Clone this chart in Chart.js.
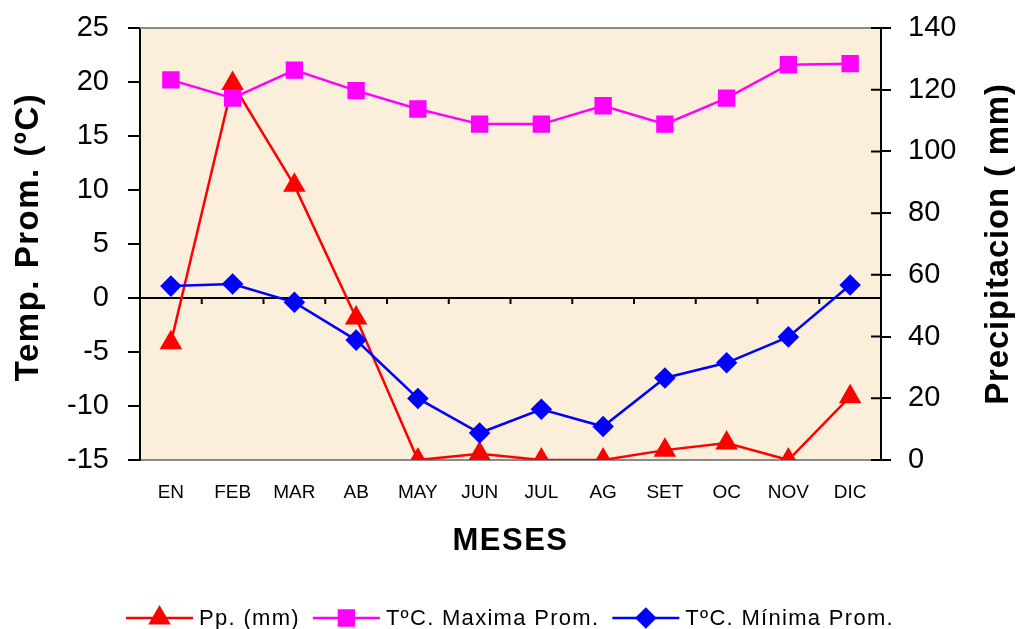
<!DOCTYPE html>
<html>
<head>
<meta charset="utf-8">
<script src="https://cdn.jsdelivr.net/npm/chart.js@4.4.1/dist/chart.umd.min.js"></script>
<style>
  html, body { margin: 0; padding: 0; background: #fff; }
  #wrap { width: 1021px; height: 629px; }
</style>
</head>
<body>
<div id="wrap"><canvas id="chart" width="1021" height="629"></canvas></div>
<script>
// months
const meses = ['EN', 'FEB', 'MAR', 'AB', 'MAY', 'JUN', 'JUL', 'AG', 'SET', 'OC', 'NOV', 'DIC'];

// precipitation (mm) - right axis
const precip = [38, 122, 89, 46, 0, 2, 0, 0, 3.2, 5.5, 0, 20.5];
// max temperature (ºC)
const tMax = [20.2, 18.5, 21.1, 19.2, 17.5, 16.1, 16.1, 17.8, 16.1, 18.5, 21.6, 21.7];
// min temperature (ºC)
const tMin = [1.1, 1.3, -0.4, -3.9, -9.3, -12.5, -10.3, -11.9, -7.4, -6.0, -3.6, 1.2];

const FONT = '"Liberation Sans", Arial, sans-serif';

// background, zero line, borders, titles and legend
const decor = {
  id: 'decor',
  beforeDraw(chart) {
    const {ctx, chartArea: a} = chart;
    ctx.save();
    ctx.fillStyle = '#fbeedb';
    ctx.fillRect(a.left, a.top, a.right - a.left, a.bottom - a.top);
    ctx.restore();
  },
  beforeDatasetsDraw(chart) {
    const {ctx, chartArea: a, scales} = chart;
    const y0 = scales.y.getPixelForValue(0);
    ctx.save();
    // top border
    ctx.strokeStyle = '#8a8a8a';
    ctx.lineWidth = 2;
    ctx.beginPath();
    ctx.moveTo(a.left, a.top);
    ctx.lineTo(a.right, a.top);
    ctx.stroke();
    // zero line with little ticks between months
    ctx.strokeStyle = '#000';
    ctx.beginPath();
    ctx.moveTo(a.left, y0);
    ctx.lineTo(a.right, y0);
    const step = (a.right - a.left) / meses.length;
    for (let i = 1; i < meses.length; i++) {
      const x = a.left + step * i;
      ctx.moveTo(x, y0);
      ctx.lineTo(x, y0 + 6);
    }
    // right axis ticks cross inward too
    scales.y1.ticks.forEach((t) => {
      const y = scales.y1.getPixelForValue(t.value);
      ctx.moveTo(a.right - 10, y);
      ctx.lineTo(a.right, y);
    });
    ctx.stroke();
    ctx.restore();
  },
  afterDraw(chart) {
    const {ctx, chartArea: a} = chart;
    const midY = (a.top + a.bottom) / 2;
    ctx.save();
    ctx.fillStyle = '#000';
    ctx.textAlign = 'center';
    ctx.textBaseline = 'middle';
    ctx.font = 'bold 33px ' + FONT;
    ctx.letterSpacing = '1.5px';
    // left title
    ctx.save();
    ctx.translate(29, midY - 7);
    ctx.rotate(-Math.PI / 2);
    ctx.fillText('Temp. Prom. (ºC)', 0, 0);
    ctx.restore();
    // right title
    ctx.letterSpacing = '0.8px';
    ctx.save();
    ctx.translate(999, midY);
    ctx.rotate(-Math.PI / 2);
    ctx.fillText('Precipitacion ( mm)', 0, 0);
    ctx.restore();
    // x title
    ctx.font = 'bold 31px ' + FONT;
    ctx.letterSpacing = '1.5px';
    ctx.fillText('MESES', (a.left + a.right) / 2, 541);

    // legend
    ctx.font = '22px ' + FONT;
    ctx.letterSpacing = '1.3px';
    const items = chart.data.datasets.map((d) => ({
      text: d.label, color: d.borderColor, style: d.pointStyle, r: d.pointRadius,
      w: ctx.measureText(d.label).width
    }));
    const lineLen = 67, gapText = 6, gapItem = 13;
    let total = 0;
    items.forEach((it, i) => { total += lineLen + gapText + it.w + (i ? gapItem : 0); });
    let x = 510 - total / 2;
    const ly = 618;
    ctx.textAlign = 'left';
    items.forEach((it) => {
      ctx.strokeStyle = it.color;
      ctx.lineWidth = 2.5;
      ctx.beginPath();
      ctx.moveTo(x, ly);
      ctx.lineTo(x + lineLen, ly);
      ctx.stroke();
      ctx.fillStyle = it.color;
      Chart.helpers.drawPoint(ctx, {pointStyle: it.style, radius: it.r, borderWidth: 1, rotation: 0}, x + lineLen / 2, ly);
      ctx.fillStyle = '#000';
      ctx.fillText(it.text, x + lineLen + gapText, ly + 1);
      x += lineLen + gapText + it.w + gapItem;
    });
    ctx.restore();
  }
};

const data = {
  labels: meses,
  datasets: [
    {
      label: 'Pp. (mm)',
      data: precip,
      yAxisID: 'y1',
      borderColor: '#ff0000',
      backgroundColor: '#ff0000',
      borderWidth: 2.5,
      pointStyle: 'triangle',
      pointRadius: 10.5,
      pointHoverRadius: 10.5,
      order: 3
    },
    {
      label: 'TºC. Maxima Prom.',
      data: tMax,
      yAxisID: 'y',
      borderColor: '#ff00ff',
      backgroundColor: '#ff00ff',
      borderWidth: 2.5,
      pointStyle: 'rect',
      pointRadius: 10.5,
      pointHoverRadius: 10.5,
      order: 2
    },
    {
      label: 'TºC. Mínima Prom.',
      data: tMin,
      yAxisID: 'y',
      borderColor: '#0000ff',
      backgroundColor: '#0000ff',
      borderWidth: 2.5,
      pointStyle: 'rectRot',
      pointRadius: 9,
      pointHoverRadius: 9,
      order: 1
    }
  ]
};

// fixed width for the y axes, no extra label padding above/below
function fixY(scale) {
  scale.width = 140;
  scale.paddingTop = 0;
  scale.paddingBottom = 0;
}

const config = {
  type: 'line',
  data,
  options: {
    responsive: false,
    animation: false,
    layout: { padding: { top: 28, bottom: 69, left: 0, right: 0 } },
    plugins: {
      legend: { display: false },
      tooltip: { enabled: false }
    },
    scales: {
      x: {
        offset: true,
        grid: { display: true, drawOnChartArea: false, drawTicks: false },
        border: { color: '#8a8a8a', width: 2 },
        ticks: { color: '#000', font: { family: FONT, size: 19 }, padding: 21, maxRotation: 0 },
        afterFit(scale) { scale.height = 100; scale.paddingLeft = 0; scale.paddingRight = 0; }
      },
      y: {
        position: 'left',
        min: -15,
        max: 25,
        grid: { drawOnChartArea: false, tickLength: 12, color: '#000', lineWidth: 2 },
        border: { color: '#000', width: 2 },
        ticks: { stepSize: 5, color: '#000', font: { family: FONT, size: 29 }, padding: 19 },
        afterFit: fixY
      },
      y1: {
        position: 'right',
        min: 0,
        max: 140,
        grid: { drawOnChartArea: false, tickLength: 10, color: '#000', lineWidth: 2 },
        border: { color: '#000', width: 2 },
        ticks: { stepSize: 20, color: '#000', font: { family: FONT, size: 29 }, padding: 17 },
        afterFit: fixY
      }
    }
  },
  plugins: [decor]
};

const ctx = document.getElementById('chart').getContext('2d');
const myChart = new Chart(ctx, config);
</script>
</body>
</html>
